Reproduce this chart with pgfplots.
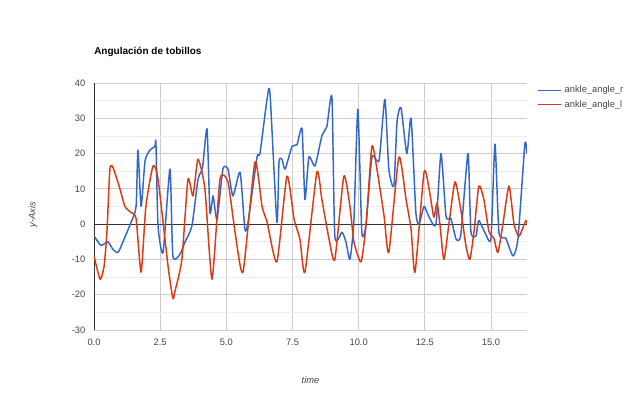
\documentclass[border=0pt]{standalone}
\usepackage{fontspec}
\setmainfont{Liberation Sans}
\usepackage{pgfplots}
\pgfplotsset{compat=1.18}
\definecolor{gblue}{HTML}{3366CC}
\definecolor{gred}{HTML}{DC3912}
\definecolor{tickgray}{HTML}{444444}
\definecolor{gridgray}{HTML}{CCCCCC}
\definecolor{minorgray}{HTML}{EDEDED}
\definecolor{basegray}{HTML}{333333}

\begin{document}
\begin{tikzpicture}
\begin{axis}[
    scale only axis,
    width=324.75pt, height=185.25pt,
    at={(0,0)}, anchor=south west,
    xmin=0, xmax=16.36, ymin=-30, ymax=40,
    xtick={0,2.5,5,7.5,10,12.5,15},
    xticklabels={0.0,2.5,5.0,7.5,10.0,12.5,15.0},
    ytick={-30,-20,-10,0,10,20,30,40},
    yticklabels={-30,-20,-10,0,10,20,30,40},
    minor ytick={-25,-15,-5,5,15,25,35},
    grid=both,
    major grid style={gridgray, line width=0.6pt},
    minor grid style={minorgray, line width=0.6pt},
    axis line style={draw=none},
    tick style={draw=none},
    tick label style={font=\fontsize{7}{8}\selectfont, text=tickgray},
    yticklabel style={xshift=-3pt},
    xticklabel style={yshift=-3pt},
    title={Angulación de tobillos},
    title style={at={(0,1.093)}, anchor=west, inner sep=0pt,
        font=\bfseries\fontsize{7.5}{9}\selectfont},
    xlabel={time},
    xlabel style={at={(0.5,-0.2024)}, anchor=center,
        font=\itshape\fontsize{7}{8}\selectfont, text=tickgray},
    ylabel={y-Axis},
    ylabel style={at={(-0.141,0.466)}, anchor=center,
        font=\itshape\fontsize{7}{8}\selectfont, text=tickgray},
    legend style={at={(1.015,1.01)}, anchor=north west, draw=none,
        row sep=0pt, font=\fontsize{7}{8}\selectfont},
    legend cell align=left,
]
\draw[basegray, line width=0.7pt] (axis cs:0,0) -- (axis cs:16.36,0);
\draw[basegray, line width=0.7pt] (axis cs:0,-30) -- (axis cs:0,40);

% ankle_angle_r
\addplot[color=gblue, line width=1.1pt, line join=round, smooth, tension=0.35] coordinates {
(0,-3.3)(0.26,-6)(0.53,-5)(0.7,-7)(0.91,-8)(1.15,-4)(1.40,0.5)(1.59,5)
(1.66,21)(1.78,5)(1.93,18)(2.12,21)(2.30,22)(2.34,23)(2.42,-0.5)(2.61,-8)
(2.87,15.6)(2.98,-9)(3.25,-8.5)(3.44,-5)(3.70,-0.5)(3.93,12.7)(4.1,16)
(4.27,27)(4.38,3.3)(4.50,8)(4.65,1.3)(4.87,15.6)(5.06,15.6)(5.25,8)
(5.52,14.7)(5.70,-1.4)(5.82,0.5)(6.16,19)(6.27,20)(6.54,35.5)(6.65,37)
(6.91,0.6)(6.99,17.6)(7.10,18.4)(7.22,15.6)(7.48,22)(7.67,22.5)(7.86,27)
(7.97,7)(8.12,19)(8.35,16.5)(8.61,25)(8.80,27.7)(8.99,36)(9.10,-3.4)
(9.37,-2.3)(9.52,-5)(9.67,-10)(9.82,1)(9.97,32.6)(10.12,-2.3)(10.28,0)
(10.50,19)(10.77,18)(10.99,35.4)(11.14,15.6)(11.33,10.8)(11.45,29)
(11.60,33)(11.82,20)(11.98,30)(12.16,3.4)(12.28,0)(12.47,5)(12.66,2)
(12.92,0)(13.11,20)(13.30,2.3)(13.49,1.5)(13.68,-4.2)(13.86,-3)(14.13,20)
(14.24,-2)(14.43,-3.4)(14.54,1)(14.81,-3)(15.00,-4)(15.15,22.7)(15.30,-2.3)
(15.56,-4)(15.83,-9)(16.02,-4)(16.28,22.7)(16.36,20)
};
\addlegendentry{\textcolor{tickgray}{ankle\_angle\_r}}

% ankle_angle_l
\addplot[color=gred, line width=1.1pt, line join=round, smooth, tension=0.35] coordinates {
(0,-9)(0.23,-15.6)(0.38,-12)(0.49,-2)(0.60,15.6)(0.72,16)(0.98,10)(1.17,5)
(1.40,3.3)(1.59,1.6)(1.78,-13.6)(1.96,5)(2.23,16.5)(2.42,12.7)(2.80,-12)
(2.98,-21)(3.06,-19)(3.32,-10)(3.55,12.7)(3.74,8)(3.93,18.4)(4.19,10)
(4.46,-15.6)(4.76,12.7)(5.06,12)(5.33,-2.3)(5.63,-13.6)(6.08,17.6)(6.35,5)
(6.54,0.6)(6.91,-10.7)(7.29,13.6)(7.56,1.4)(7.78,-4.2)(7.97,-13.6)(8.42,14.7)
(8.61,7)(8.88,-4.2)(9.10,-10)(9.44,13.6)(9.67,5)(9.82,-5)(10.09,-10.7)
(10.28,0)(10.50,22)(10.69,15.6)(10.96,2.3)(11.14,-8)(11.52,19)(11.79,7)
(11.98,-1.4)(12.13,-13.6)(12.47,14.7)(12.66,10)(12.84,2)(12.96,6)(13.07,0)
(13.22,-10)(13.41,0)(13.64,12)(13.86,4)(14.05,-6)(14.20,-10)(14.36,-2)
(14.54,10.8)(14.73,7)(14.92,-2)(15.11,-4)(15.26,-8)(15.45,0)(15.68,10.8)
(15.87,0)(16.06,-3.4)(16.32,1)(16.40,-1)
};
\addlegendentry{\textcolor{tickgray}{ankle\_angle\_l}}
\end{axis}
\path[use as bounding box] (-70.5pt,-53.25pt) rectangle (412.5pt,247.5pt);
\end{tikzpicture}
\end{document}
